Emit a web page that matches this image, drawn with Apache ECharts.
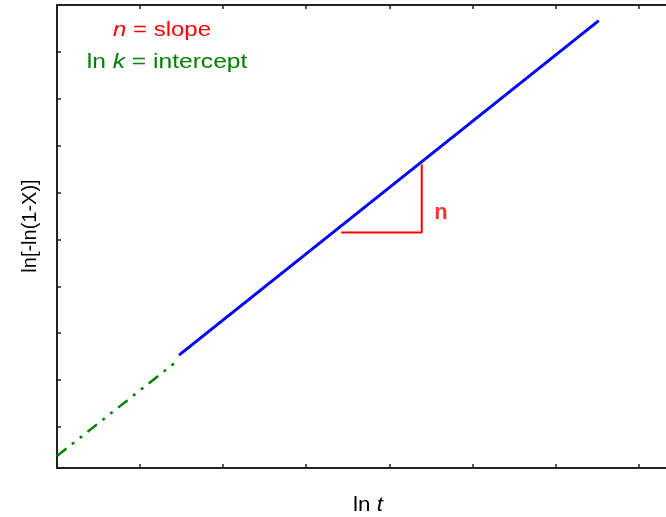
<!DOCTYPE html>
<html>
<head>
<meta charset="utf-8">
<title>ln[-ln(1-X)] vs ln t</title>
<script src="https://cdn.jsdelivr.net/npm/echarts@6/dist/echarts.min.js"></script>
<style>
  html, body { margin: 0; padding: 0; background: #fff; }
  #chart { width: 666px; height: 517px; }
</style>
</head>
<body>
<div id="chart"></div>
<script>
// Avrami plot: measured region (solid) and extrapolation to the intercept (dash-dot)
const measuredX = [1.48, 6.51];
const measuredY = [1.55, 8.65];
const extrapX = [0.0, 1.44];
const extrapY = [-0.62, 1.40];
// slope triangle (horizontal run then vertical rise)
const triangleX = [3.42, 4.39, 4.39];
const triangleY = [4.15, 4.15, 5.60];
const slopeLabelPos = [4.62, 4.56];
// tick positions on the frame (no labels shown)
const xTicks = [0, 1, 2, 3, 4, 5, 6, 7];
const yTicks = [0, 1, 2, 3, 4, 5, 6, 7, 8, 9];

const FONT = '"Liberation Sans", Arial, sans-serif';
const frameLine = { show: true, onZero: false, lineStyle: { color: '#222', width: 2 } };
const frameTick = (vals) => ({ show: true, inside: true, length: 4, customValues: vals, lineStyle: { color: '#222', width: 1.5 } });

const zip = (xs, ys) => xs.map((x, i) => [x, ys[i]]);

const chart = echarts.init(document.getElementById('chart'), null, { renderer: 'canvas' });
chart.setOption({
  animation: false,
  backgroundColor: '#fff',
  // the frame runs past the right edge of the canvas
  grid: { left: 57, top: 5, right: 0, height: 463, containLabel: false },
  xAxis: [
    { type: 'value', min: 0, max: 7.33, position: 'bottom', axisLine: frameLine, axisTick: frameTick(xTicks), axisLabel: { show: false }, splitLine: { show: false } },
    { type: 'value', min: 0, max: 7.33, position: 'top', axisLine: frameLine, axisTick: frameTick(xTicks), axisLabel: { show: false }, splitLine: { show: false } }
  ],
  yAxis: [
    { type: 'value', min: -0.875, max: 9, position: 'left', axisLine: frameLine, axisTick: frameTick(yTicks), axisLabel: { show: false }, splitLine: { show: false } }
  ],
  series: [
    {
      type: 'line', data: zip(extrapX, extrapY), symbol: 'none',
      lineStyle: { color: '#008000', width: 2.5, type: [12, 7, 3, 7, 3, 7], cap: 'butt' }
    },
    {
      type: 'line', data: zip(measuredX, measuredY), symbol: 'none',
      lineStyle: { color: '#0000ff', width: 3, cap: 'round' }
    },
    {
      type: 'line', data: zip(triangleX, triangleY), symbol: 'none',
      lineStyle: { color: '#ff0000', width: 2 }
    },
    {
      type: 'scatter', data: [slopeLabelPos], symbolSize: 0,
      label: {
        show: true, position: 'inside', formatter: 'n',
        color: '#ff0000', fontFamily: FONT, fontWeight: 'bold', fontSize: 22
      }
    }
  ],
  graphic: [
    {
      type: 'text', x: 162, y: 30, scaleX: 1.2,
      style: {
        text: '{i|n} = slope', fill: '#ff0000', font: '20px ' + FONT,
        align: 'center', verticalAlign: 'middle',
        rich: { i: { fontStyle: 'italic', fontSize: 20, fontFamily: FONT, fill: '#ff0000' } }
      }
    },
    {
      type: 'text', x: 167, y: 62, scaleX: 1.23,
      style: {
        text: 'ln {i|k} = intercept', fill: '#008000', font: '20px ' + FONT,
        align: 'center', verticalAlign: 'middle',
        rich: { i: { fontStyle: 'italic', fontSize: 20, fontFamily: FONT, fill: '#008000' } }
      }
    },
    {
      type: 'text', x: 368, y: 505, scaleX: 1.12,
      style: {
        text: 'ln {i|t}', fill: '#000', font: '20px ' + FONT,
        align: 'center', verticalAlign: 'middle',
        rich: { i: { fontStyle: 'italic', fontSize: 20, fontFamily: FONT, fill: '#000' } }
      }
    },
    {
      type: 'text', x: 30, y: 226, rotation: Math.PI / 2,
      style: {
        text: 'ln[-ln(1-X)]', fill: '#000', font: '20px ' + FONT,
        align: 'center', verticalAlign: 'middle'
      }
    }
  ]
});
</script>
</body>
</html>
